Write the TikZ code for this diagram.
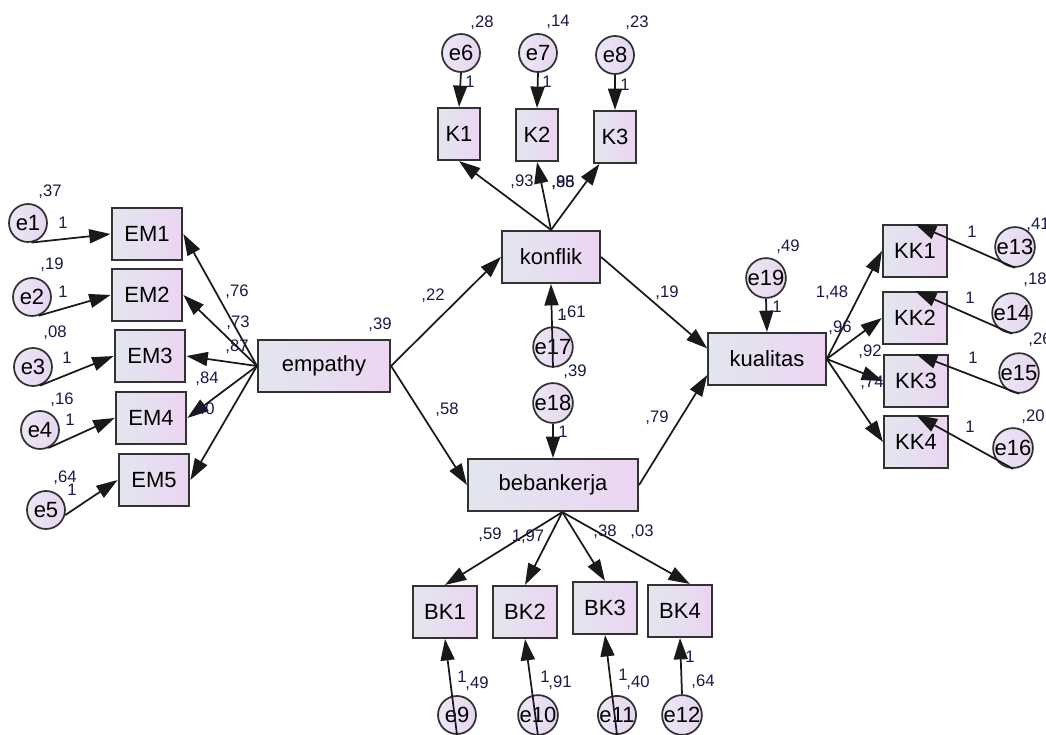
\documentclass[tikz,border=0pt]{standalone}
\usepackage{fontspec}
\setmainfont{Liberation Sans}
\usetikzlibrary{arrows.meta}
\definecolor{boxleft}{RGB}{226,230,238}
\definecolor{boxright}{RGB}{236,213,242}
\definecolor{errleft}{RGB}{236,230,244}
\definecolor{errright}{RGB}{230,214,240}
\definecolor{framegray}{RGB}{50,50,50}
\definecolor{numblue}{RGB}{25,25,70}

\begin{document}
\begin{tikzpicture}[x=0.75pt,y=-0.75pt]

%
% Styles
%
\tikzstyle{observed}  = [rectangle,draw=framegray,line width=1.6pt,left color=boxleft,right color=boxright,inner sep=0pt,minimum width=48pt,minimum height=39pt,font=\fontsize{16.5}{18}\selectfont]
\tikzstyle{construct} = [observed,minimum height=39pt]
\tikzstyle{error}     = [circle,draw=framegray,line width=1.3pt,left color=errleft,right color=errright,inner sep=0pt,minimum size=28.5pt,font=\fontsize{16.5}{18}\selectfont]
\tikzstyle{coef}      = [inner sep=0pt,text=numblue,font=\fontsize{12.5}{14}\selectfont]

\tikzstyle{edge}      = [-{Triangle[length=16pt,width=10.5pt]},line width=1.3pt,draw=black!90]

\useasboundingbox (0,0) rectangle (1046,735);

% empathy block
\node[observed,minimum width=53pt] (EM1) at (147,234) {EM1};
\node[observed,minimum width=53pt] (EM2) at (147,295) {EM2};
\node[observed,minimum width=53pt] (EM3) at (150,356) {EM3};
\node[observed,minimum width=53pt] (EM4) at (151,418) {EM4};
\node[observed,minimum width=53pt] (EM5) at (154,480) {EM5};
\node[error] (e1) at (28,223) {e1};
\node[error] (e2) at (32,297) {e2};
\node[error] (e3) at (33,367) {e3};
\node[error] (e4) at (40,430) {e4};
\node[error] (e5) at (46,510) {e5};
\node[construct,minimum width=99pt] (empathy) at (324,366) {empathy};

% konflik block
\node[observed,minimum width=31.5pt] (K1) at (459,134) {K1};
\node[observed,minimum width=31.5pt] (K2) at (537,135) {K2};
\node[observed,minimum width=31.5pt] (K3) at (615,137) {K3};
\node[error] (e6) at (461,53) {e6};
\node[error] (e7) at (538,53) {e7};
\node[error] (e8) at (615,55) {e8};
\node[construct,minimum width=73.5pt] (konflik) at (551,257) {konflik};
\node[error] (e17) at (553,347) {e17};

% bebankerja block
\node[error] (e18) at (553,403) {e18};
\node[construct,minimum width=127.5pt] (bebankerja) at (553,485) {bebankerja};
\node[observed] (BK1) at (445,612) {BK1};
\node[observed] (BK2) at (525,612) {BK2};
\node[observed] (BK3) at (605,608) {BK3};
\node[observed] (BK4) at (680,611) {BK4};
\node[error] (e9)  at (457,715) {e9};
\node[error] (e10) at (538,715) {e10};
\node[error] (e11) at (617,715) {e11};
\node[error] (e12) at (682,715) {e12};

% kualitas block
\node[construct,minimum width=88pt] (kualitas) at (767,359) {kualitas};
\node[error] (e19) at (766,278) {e19};
\node[observed] (KK1) at (915,251) {KK1};
\node[observed] (KK2) at (915,318) {KK2};
\node[observed] (KK3) at (916,381) {KK3};
\node[observed] (KK4) at (916,442) {KK4};
\node[error] (e13) at (1015,247) {e13};
\node[error] (e14) at (1012,313) {e14};
\node[error] (e15) at (1019,373) {e15};
\node[error] (e16) at (1013,448) {e16};

% measurement edges
\draw[edge] (e1.-80) -- (EM1.west);
\draw[edge] (e2.-70) -- (EM2.west);
\draw[edge] (e3.-70) -- (EM3.west);
\draw[edge] (e4.-65) -- (EM4.west);
\draw[edge] (e5.-15) -- (EM5.west);
\draw[edge] (empathy.west) -- (EM1.east);
\draw[edge] (empathy.west) -- (EM2.east);
\draw[edge] (empathy.west) -- (EM3.east);
\draw[edge] (empathy.west) -- (EM4.east);
\draw[edge] (empathy.west) -- (EM5.east);

\draw[edge] (e6.south) -- (K1.north);
\draw[edge] (e7.south) -- (K2.north);
\draw[edge] (e8.south) -- (K3.north);
\draw[edge] (konflik.north) -- (K1.south);
\draw[edge] (konflik.north) -- (K2.south);
\draw[edge] (konflik.north) -- (K3.-120);

\draw[edge] ([xshift=7pt]bebankerja.south) -- (BK1.north);
\draw[edge] ([xshift=7pt]bebankerja.south) -- (BK2.north);
\draw[edge] ([xshift=7pt]bebankerja.south) -- (BK3.north);
\draw[edge] ([xshift=7pt]bebankerja.south) -- (BK4.70);
\draw[edge] (e9.south) -- (BK1.south);
\draw[edge] (e10.south) -- (BK2.south);
\draw[edge] (e11.south) -- (BK3.south);
\draw[edge] (e12.north) -- (BK4.south);

\draw[edge] (kualitas.east) -- (KK1.west);
\draw[edge] (kualitas.east) -- (KK2.west);
\draw[edge] (kualitas.east) -- (KK3.west);
\draw[edge] (kualitas.east) -- (KK4.west);
\draw[edge] (e13.south) -- (KK1.north);
\draw[edge] (e14.south) -- (KK2.north);
\draw[edge] (e15.south) -- (KK3.north);
\draw[edge] (e16.south) -- (KK4.north);

% structural edges
\draw[edge] (empathy.east) -- (konflik.west);
\draw[edge] (empathy.east) -- (bebankerja.west);
\draw[edge] (konflik.east) -- (kualitas.170);
\draw[edge] (bebankerja.east) -- (kualitas.-165);
\draw[edge] (e17.south) -- (konflik.south);
\draw[edge] (e18.south) -- (bebankerja.north);
\draw[edge] (e19.south) -- (kualitas.north);

% estimates
\node[coef] (v1) at (50,192) {,37};
\node[coef] (v2) at (52,265) {,19};
\node[coef] (v3) at (55,333) {,08};
\node[coef] (v4) at (62,400) {,16};
\node[coef] (v5) at (65,478) {,64};
\node[coef] (f1) at (63,223) {1};
\node[coef] (f2) at (63,292) {1};
\node[coef] (f3) at (67,358) {1};
\node[coef] (f4) at (70,420) {1};
\node[coef] (f5) at (72,490) {1};
\node[coef] (w1) at (237,292) {,76};
\node[coef] (w2) at (238,323) {,73};
\node[coef] (w3) at (237,347) {,87};
\node[coef] (w4) at (207,379) {,84};
\node[coef] (w5) at (203,410) {,40};
\node[coef] (vemp) at (380,325) {,39};

\node[coef] (v6) at (482,23) {,28};
\node[coef] (v7) at (558,22) {,14};
\node[coef] (v8) at (637,23) {,23};
\node[coef] (f6) at (470,82) {1};
\node[coef] (f7) at (547,82) {1};
\node[coef] (f8) at (625,85) {1};
\node[coef] (w6) at (522,182) {,93};
\node[coef] (w7) at (563,183) {,95};
\node[coef] (w8) at (563,183) {,88};

\node[coef] (p1) at (433,296) {,22};
\node[coef] (p2) at (447,410) {,58};
\node[coef] (p3) at (667,293) {,19};
\node[coef] (p4) at (657,418) {,79};
\node[coef] (f17) at (562,315) {1};
\node[coef] (v17) at (574,313) {,61};
\node[coef] (v18) at (575,372) {,39};
\node[coef] (f18) at (563,432) {1};

\node[coef] (w9)  at (490,535) {,59};
\node[coef] (w10) at (528,537) {1,97};
\node[coef] (w11) at (605,532) {,38};
\node[coef] (w12) at (642,532) {,03};
\node[coef] (f9)  at (462,677) {1};
\node[coef] (v9)  at (477,684) {,49};
\node[coef] (f10) at (545,677) {1};
\node[coef] (v10) at (560,683) {,91};
\node[coef] (f11) at (623,675) {1};
\node[coef] (v11) at (638,683) {,40};
\node[coef] (f12) at (690,657) {1};
\node[coef] (v12) at (703,682) {,64};

\node[coef] (v19) at (788,247) {,49};
\node[coef] (f19) at (777,307) {1};
\node[coef] (w13) at (832,293) {1,48};
\node[coef] (w14) at (840,328) {,96};
\node[coef] (w15) at (870,352) {,92};
\node[coef] (w16) at (872,383) {,74};
\node[coef] (v13) at (1038,225) {,41};
\node[coef] (v14) at (1035,280) {,18};
\node[coef] (v15) at (1040,340) {,26};
\node[coef] (v16) at (1033,417) {,20};
\node[coef] (f13) at (972,232) {1};
\node[coef] (f14) at (970,298) {1};
\node[coef] (f15) at (973,358) {1};
\node[coef] (f16) at (970,427) {1};

\end{tikzpicture}
\end{document}
